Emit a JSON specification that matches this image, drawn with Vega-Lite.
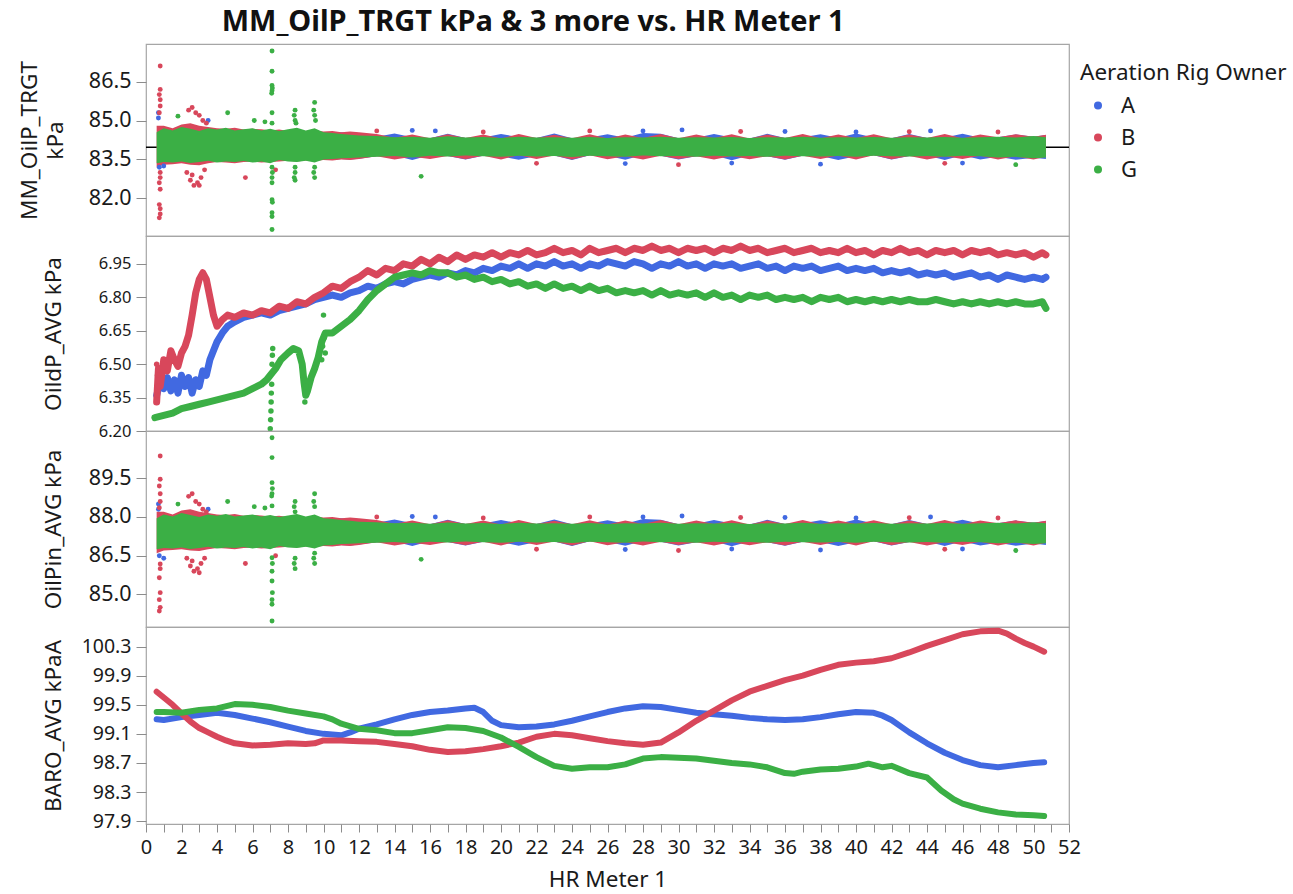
{
"$schema": "https://vega.github.io/schema/vega-lite/v6.json",
"background": "white",
"padding": {"left": 17, "top": 8, "right": 5, "bottom": 5},
"title": {"text": "MM_OilP_TRGT kPa & 3 more vs. HR Meter 1", "fontSize": 29, "fontWeight": "bold", "color": "#111111", "anchor": "middle", "offset": 6, "dx": -128},
"config": {
 "font": "Noto Sans",
 "view": {"stroke": "#a6a6a6", "strokeWidth": 1.2},
 "axis": {"grid": false, "domain": false, "ticks": true, "tickColor": "#8c8c8c", "tickSize": 10, "labelColor": "#1a1a1a", "titleColor": "#1a1a1a", "titleFontWeight": "normal", "titleFontSize": 22.5, "labelFontSize": 21.5, "labelPadding": 5},
 "legend": {"titleFontSize": 22.5, "titleFontWeight": "normal", "titleColor": "#1a1a1a", "titleLimit": 400, "labelFontSize": 22, "labelColor": "#1a1a1a", "symbolType": "circle", "symbolSize": 64, "symbolStrokeWidth": 0, "rowPadding": 10, "titlePadding": 10, "labelOffset": 12, "symbolOffset": 7, "offset": -20, "padding": 18}
},
"datasets": {
 "ref": [{"r": 83.97}],
 "band": [
  {"x":0.7,"s":"A","tl":83.30,"th":84.70,"pl":86.70,"ph":88.10},
  {"x":1,"s":"A","tl":83.35,"th":84.65,"pl":86.75,"ph":88.05},
  {"x":1.5,"s":"A","tl":83.40,"th":84.60,"pl":86.80,"ph":88.00},
  {"x":2,"s":"A","tl":83.38,"th":84.62,"pl":86.78,"ph":88.02},
  {"x":2.5,"s":"A","tl":83.42,"th":84.58,"pl":86.82,"ph":87.98},
  {"x":3,"s":"A","tl":83.40,"th":84.65,"pl":86.80,"ph":88.05},
  {"x":3.5,"s":"A","tl":83.38,"th":84.70,"pl":86.78,"ph":88.10},
  {"x":4,"s":"A","tl":83.42,"th":84.60,"pl":86.82,"ph":88.00},
  {"x":4.5,"s":"A","tl":83.40,"th":84.62,"pl":86.80,"ph":88.02},
  {"x":5,"s":"A","tl":83.44,"th":84.58,"pl":86.84,"ph":87.98},
  {"x":5.5,"s":"A","tl":83.42,"th":84.60,"pl":86.82,"ph":88.00},
  {"x":6,"s":"A","tl":83.45,"th":84.56,"pl":86.85,"ph":87.96},
  {"x":6.5,"s":"A","tl":83.43,"th":84.60,"pl":86.83,"ph":88.00},
  {"x":7,"s":"A","tl":83.46,"th":84.58,"pl":86.86,"ph":87.98},
  {"x":7.5,"s":"A","tl":83.44,"th":84.55,"pl":86.84,"ph":87.95},
  {"x":8,"s":"A","tl":83.48,"th":84.57,"pl":86.88,"ph":87.97},
  {"x":8.5,"s":"A","tl":83.45,"th":84.55,"pl":86.85,"ph":87.95},
  {"x":9,"s":"A","tl":83.48,"th":84.58,"pl":86.88,"ph":87.98},
  {"x":9.5,"s":"A","tl":83.46,"th":84.54,"pl":86.86,"ph":87.94},
  {"x":10,"s":"A","tl":83.50,"th":84.56,"pl":86.90,"ph":87.96},
  {"x":10.5,"s":"A","tl":83.48,"th":84.52,"pl":86.88,"ph":87.92},
  {"x":11,"s":"A","tl":83.52,"th":84.55,"pl":86.92,"ph":87.95},
  {"x":11.5,"s":"A","tl":83.50,"th":84.50,"pl":86.90,"ph":87.90},
  {"x":12,"s":"A","tl":83.53,"th":84.52,"pl":86.93,"ph":87.92},
  {"x":13,"s":"A","tl":83.62,"th":84.38,"pl":87.02,"ph":87.78},
  {"x":14,"s":"A","tl":83.65,"th":84.50,"pl":87.05,"ph":87.90},
  {"x":15,"s":"A","tl":83.48,"th":84.36,"pl":86.88,"ph":87.76},
  {"x":16,"s":"A","tl":83.66,"th":84.32,"pl":87.06,"ph":87.72},
  {"x":17,"s":"A","tl":83.63,"th":84.49,"pl":87.03,"ph":87.89},
  {"x":18,"s":"A","tl":83.50,"th":84.33,"pl":86.90,"ph":87.73},
  {"x":19,"s":"A","tl":83.64,"th":84.35,"pl":87.04,"ph":87.75},
  {"x":20,"s":"A","tl":83.62,"th":84.48,"pl":87.02,"ph":87.88},
  {"x":21,"s":"A","tl":83.49,"th":84.36,"pl":86.89,"ph":87.76},
  {"x":22,"s":"A","tl":83.63,"th":84.33,"pl":87.03,"ph":87.73},
  {"x":23,"s":"A","tl":83.65,"th":84.50,"pl":87.05,"ph":87.90},
  {"x":24,"s":"A","tl":83.48,"th":84.32,"pl":86.88,"ph":87.72},
  {"x":25,"s":"A","tl":83.66,"th":84.35,"pl":87.06,"ph":87.75},
  {"x":26,"s":"A","tl":83.64,"th":84.47,"pl":87.04,"ph":87.87},
  {"x":27,"s":"A","tl":83.49,"th":84.34,"pl":86.89,"ph":87.74},
  {"x":28,"s":"A","tl":83.67,"th":84.52,"pl":87.07,"ph":87.92},
  {"x":29,"s":"A","tl":83.64,"th":84.49,"pl":87.04,"ph":87.89},
  {"x":30,"s":"A","tl":83.50,"th":84.32,"pl":86.90,"ph":87.72},
  {"x":31,"s":"A","tl":83.62,"th":84.34,"pl":87.02,"ph":87.74},
  {"x":32,"s":"A","tl":83.66,"th":84.48,"pl":87.06,"ph":87.88},
  {"x":33,"s":"A","tl":83.47,"th":84.35,"pl":86.87,"ph":87.75},
  {"x":34,"s":"A","tl":83.65,"th":84.31,"pl":87.05,"ph":87.71},
  {"x":35,"s":"A","tl":83.62,"th":84.49,"pl":87.02,"ph":87.89},
  {"x":36,"s":"A","tl":83.49,"th":84.33,"pl":86.89,"ph":87.73},
  {"x":37,"s":"A","tl":83.64,"th":84.36,"pl":87.04,"ph":87.76},
  {"x":38,"s":"A","tl":83.63,"th":84.47,"pl":87.03,"ph":87.87},
  {"x":39,"s":"A","tl":83.48,"th":84.34,"pl":86.88,"ph":87.74},
  {"x":40,"s":"A","tl":83.62,"th":84.50,"pl":87.02,"ph":87.90},
  {"x":41,"s":"A","tl":83.66,"th":84.35,"pl":87.06,"ph":87.75},
  {"x":42,"s":"A","tl":83.50,"th":84.32,"pl":86.90,"ph":87.72},
  {"x":43,"s":"A","tl":83.63,"th":84.48,"pl":87.03,"ph":87.88},
  {"x":44,"s":"A","tl":83.65,"th":84.33,"pl":87.05,"ph":87.73},
  {"x":45,"s":"A","tl":83.48,"th":84.35,"pl":86.88,"ph":87.75},
  {"x":46,"s":"A","tl":83.66,"th":84.49,"pl":87.06,"ph":87.89},
  {"x":47,"s":"A","tl":83.50,"th":84.34,"pl":86.90,"ph":87.74},
  {"x":48,"s":"A","tl":83.60,"th":84.36,"pl":87.00,"ph":87.76},
  {"x":49,"s":"A","tl":83.49,"th":84.46,"pl":86.89,"ph":87.86},
  {"x":50,"s":"A","tl":83.57,"th":84.38,"pl":86.97,"ph":87.78},
  {"x":50.7,"s":"A","tl":83.52,"th":84.44,"pl":86.92,"ph":87.84},
  {"x":0.6,"s":"B","tl":83.20,"th":84.80,"pl":86.60,"ph":88.20},
  {"x":1,"s":"B","tl":83.30,"th":84.80,"pl":86.70,"ph":88.20},
  {"x":1.5,"s":"B","tl":83.32,"th":84.70,"pl":86.72,"ph":88.10},
  {"x":2,"s":"B","tl":83.35,"th":84.85,"pl":86.75,"ph":88.25},
  {"x":2.5,"s":"B","tl":83.30,"th":84.90,"pl":86.70,"ph":88.30},
  {"x":3,"s":"B","tl":83.28,"th":84.80,"pl":86.68,"ph":88.20},
  {"x":3.5,"s":"B","tl":83.35,"th":84.75,"pl":86.75,"ph":88.15},
  {"x":4,"s":"B","tl":83.40,"th":84.70,"pl":86.80,"ph":88.10},
  {"x":4.5,"s":"B","tl":83.38,"th":84.68,"pl":86.78,"ph":88.08},
  {"x":5,"s":"B","tl":83.35,"th":84.72,"pl":86.75,"ph":88.12},
  {"x":5.5,"s":"B","tl":83.40,"th":84.65,"pl":86.80,"ph":88.05},
  {"x":6,"s":"B","tl":83.42,"th":84.68,"pl":86.82,"ph":88.08},
  {"x":6.5,"s":"B","tl":83.38,"th":84.66,"pl":86.78,"ph":88.06},
  {"x":7,"s":"B","tl":83.40,"th":84.62,"pl":86.80,"ph":88.02},
  {"x":7.5,"s":"B","tl":83.42,"th":84.65,"pl":86.82,"ph":88.05},
  {"x":8,"s":"B","tl":83.45,"th":84.60,"pl":86.85,"ph":88.00},
  {"x":8.5,"s":"B","tl":83.42,"th":84.62,"pl":86.82,"ph":88.02},
  {"x":9,"s":"B","tl":83.46,"th":84.58,"pl":86.86,"ph":87.98},
  {"x":9.5,"s":"B","tl":83.44,"th":84.62,"pl":86.84,"ph":88.02},
  {"x":10,"s":"B","tl":83.48,"th":84.58,"pl":86.88,"ph":87.98},
  {"x":10.5,"s":"B","tl":83.46,"th":84.60,"pl":86.86,"ph":88.00},
  {"x":11,"s":"B","tl":83.50,"th":84.55,"pl":86.90,"ph":87.95},
  {"x":11.5,"s":"B","tl":83.48,"th":84.58,"pl":86.88,"ph":87.98},
  {"x":12,"s":"B","tl":83.52,"th":84.55,"pl":86.92,"ph":87.95},
  {"x":13,"s":"B","tl":83.62,"th":84.48,"pl":87.02,"ph":87.88},
  {"x":14,"s":"B","tl":83.50,"th":84.34,"pl":86.90,"ph":87.74},
  {"x":15,"s":"B","tl":83.60,"th":84.46,"pl":87.00,"ph":87.86},
  {"x":16,"s":"B","tl":83.52,"th":84.32,"pl":86.92,"ph":87.72},
  {"x":17,"s":"B","tl":83.63,"th":84.47,"pl":87.03,"ph":87.87},
  {"x":18,"s":"B","tl":83.51,"th":84.33,"pl":86.91,"ph":87.73},
  {"x":19,"s":"B","tl":83.64,"th":84.46,"pl":87.04,"ph":87.86},
  {"x":20,"s":"B","tl":83.50,"th":84.31,"pl":86.90,"ph":87.71},
  {"x":21,"s":"B","tl":83.66,"th":84.48,"pl":87.06,"ph":87.88},
  {"x":22,"s":"B","tl":83.52,"th":84.33,"pl":86.92,"ph":87.73},
  {"x":23,"s":"B","tl":83.65,"th":84.45,"pl":87.05,"ph":87.85},
  {"x":24,"s":"B","tl":83.50,"th":84.32,"pl":86.90,"ph":87.72},
  {"x":25,"s":"B","tl":83.66,"th":84.47,"pl":87.06,"ph":87.87},
  {"x":26,"s":"B","tl":83.51,"th":84.31,"pl":86.91,"ph":87.71},
  {"x":27,"s":"B","tl":83.62,"th":84.46,"pl":87.02,"ph":87.86},
  {"x":28,"s":"B","tl":83.50,"th":84.33,"pl":86.90,"ph":87.73},
  {"x":29,"s":"B","tl":83.64,"th":84.48,"pl":87.04,"ph":87.88},
  {"x":30,"s":"B","tl":83.52,"th":84.32,"pl":86.92,"ph":87.72},
  {"x":31,"s":"B","tl":83.62,"th":84.46,"pl":87.02,"ph":87.86},
  {"x":32,"s":"B","tl":83.50,"th":84.33,"pl":86.90,"ph":87.73},
  {"x":33,"s":"B","tl":83.63,"th":84.47,"pl":87.03,"ph":87.87},
  {"x":34,"s":"B","tl":83.51,"th":84.31,"pl":86.91,"ph":87.71},
  {"x":35,"s":"B","tl":83.62,"th":84.46,"pl":87.02,"ph":87.86},
  {"x":36,"s":"B","tl":83.50,"th":84.33,"pl":86.90,"ph":87.73},
  {"x":37,"s":"B","tl":83.64,"th":84.48,"pl":87.04,"ph":87.88},
  {"x":38,"s":"B","tl":83.52,"th":84.32,"pl":86.92,"ph":87.72},
  {"x":39,"s":"B","tl":83.65,"th":84.46,"pl":87.05,"ph":87.86},
  {"x":40,"s":"B","tl":83.50,"th":84.33,"pl":86.90,"ph":87.73},
  {"x":41,"s":"B","tl":83.66,"th":84.47,"pl":87.06,"ph":87.87},
  {"x":42,"s":"B","tl":83.51,"th":84.32,"pl":86.91,"ph":87.72},
  {"x":43,"s":"B","tl":83.63,"th":84.46,"pl":87.03,"ph":87.86},
  {"x":44,"s":"B","tl":83.50,"th":84.33,"pl":86.90,"ph":87.73},
  {"x":45,"s":"B","tl":83.62,"th":84.48,"pl":87.02,"ph":87.88},
  {"x":46,"s":"B","tl":83.52,"th":84.32,"pl":86.92,"ph":87.72},
  {"x":47,"s":"B","tl":83.64,"th":84.46,"pl":87.04,"ph":87.86},
  {"x":48,"s":"B","tl":83.50,"th":84.36,"pl":86.90,"ph":87.76},
  {"x":49,"s":"B","tl":83.62,"th":84.47,"pl":87.02,"ph":87.87},
  {"x":50,"s":"B","tl":83.50,"th":84.38,"pl":86.90,"ph":87.78},
  {"x":50.7,"s":"B","tl":83.60,"th":84.45,"pl":87.00,"ph":87.85},
  {"x":0.6,"s":"G","tl":83.35,"th":84.55,"pl":86.75,"ph":87.95},
  {"x":1,"s":"G","tl":83.40,"th":84.70,"pl":86.80,"ph":88.10},
  {"x":1.5,"s":"G","tl":83.38,"th":84.62,"pl":86.78,"ph":88.02},
  {"x":2,"s":"G","tl":83.42,"th":84.75,"pl":86.82,"ph":88.15},
  {"x":2.5,"s":"G","tl":83.36,"th":84.68,"pl":86.76,"ph":88.08},
  {"x":3,"s":"G","tl":83.40,"th":84.60,"pl":86.80,"ph":88.00},
  {"x":3.5,"s":"G","tl":83.45,"th":84.70,"pl":86.85,"ph":88.10},
  {"x":4,"s":"G","tl":83.38,"th":84.65,"pl":86.78,"ph":88.05},
  {"x":4.5,"s":"G","tl":83.42,"th":84.72,"pl":86.82,"ph":88.12},
  {"x":5,"s":"G","tl":83.40,"th":84.62,"pl":86.80,"ph":88.02},
  {"x":5.5,"s":"G","tl":83.44,"th":84.66,"pl":86.84,"ph":88.06},
  {"x":6,"s":"G","tl":83.38,"th":84.70,"pl":86.78,"ph":88.10},
  {"x":6.5,"s":"G","tl":83.42,"th":84.62,"pl":86.82,"ph":88.02},
  {"x":7,"s":"G","tl":83.35,"th":84.68,"pl":86.75,"ph":88.08},
  {"x":7.5,"s":"G","tl":83.48,"th":84.60,"pl":86.88,"ph":88.00},
  {"x":8,"s":"G","tl":83.42,"th":84.66,"pl":86.82,"ph":88.06},
  {"x":8.5,"s":"G","tl":83.40,"th":84.72,"pl":86.80,"ph":88.12},
  {"x":9,"s":"G","tl":83.45,"th":84.62,"pl":86.85,"ph":88.02},
  {"x":9.5,"s":"G","tl":83.38,"th":84.70,"pl":86.78,"ph":88.10},
  {"x":10,"s":"G","tl":83.50,"th":84.55,"pl":86.90,"ph":87.95},
  {"x":10.5,"s":"G","tl":83.52,"th":84.52,"pl":86.92,"ph":87.92},
  {"x":11,"s":"G","tl":83.55,"th":84.48,"pl":86.95,"ph":87.88},
  {"x":11.5,"s":"G","tl":83.56,"th":84.45,"pl":86.96,"ph":87.85},
  {"x":12,"s":"G","tl":83.58,"th":84.42,"pl":86.98,"ph":87.82},
  {"x":13,"s":"G","tl":83.60,"th":84.40,"pl":87.00,"ph":87.80},
  {"x":14,"s":"G","tl":83.63,"th":84.36,"pl":87.03,"ph":87.76},
  {"x":15,"s":"G","tl":83.58,"th":84.38,"pl":86.98,"ph":87.78},
  {"x":16,"s":"G","tl":83.64,"th":84.34,"pl":87.04,"ph":87.74},
  {"x":17,"s":"G","tl":83.61,"th":84.39,"pl":87.01,"ph":87.79},
  {"x":18,"s":"G","tl":83.65,"th":84.35,"pl":87.05,"ph":87.75},
  {"x":19,"s":"G","tl":83.62,"th":84.37,"pl":87.02,"ph":87.77},
  {"x":20,"s":"G","tl":83.60,"th":84.33,"pl":87.00,"ph":87.73},
  {"x":21,"s":"G","tl":83.64,"th":84.38,"pl":87.04,"ph":87.78},
  {"x":22,"s":"G","tl":83.61,"th":84.35,"pl":87.01,"ph":87.75},
  {"x":23,"s":"G","tl":83.63,"th":84.36,"pl":87.03,"ph":87.76},
  {"x":24,"s":"G","tl":83.59,"th":84.34,"pl":86.99,"ph":87.74},
  {"x":25,"s":"G","tl":83.64,"th":84.37,"pl":87.04,"ph":87.77},
  {"x":26,"s":"G","tl":83.62,"th":84.33,"pl":87.02,"ph":87.73},
  {"x":27,"s":"G","tl":83.60,"th":84.36,"pl":87.00,"ph":87.76},
  {"x":28,"s":"G","tl":83.65,"th":84.35,"pl":87.05,"ph":87.75},
  {"x":29,"s":"G","tl":83.62,"th":84.38,"pl":87.02,"ph":87.78},
  {"x":30,"s":"G","tl":83.63,"th":84.34,"pl":87.03,"ph":87.74},
  {"x":31,"s":"G","tl":83.60,"th":84.36,"pl":87.00,"ph":87.76},
  {"x":32,"s":"G","tl":83.64,"th":84.35,"pl":87.04,"ph":87.75},
  {"x":33,"s":"G","tl":83.61,"th":84.37,"pl":87.01,"ph":87.77},
  {"x":34,"s":"G","tl":83.63,"th":84.33,"pl":87.03,"ph":87.73},
  {"x":35,"s":"G","tl":83.60,"th":84.36,"pl":87.00,"ph":87.76},
  {"x":36,"s":"G","tl":83.64,"th":84.35,"pl":87.04,"ph":87.75},
  {"x":37,"s":"G","tl":83.62,"th":84.38,"pl":87.02,"ph":87.78},
  {"x":38,"s":"G","tl":83.61,"th":84.34,"pl":87.01,"ph":87.74},
  {"x":39,"s":"G","tl":83.63,"th":84.36,"pl":87.03,"ph":87.76},
  {"x":40,"s":"G","tl":83.60,"th":84.35,"pl":87.00,"ph":87.75},
  {"x":41,"s":"G","tl":83.64,"th":84.37,"pl":87.04,"ph":87.77},
  {"x":42,"s":"G","tl":83.62,"th":84.34,"pl":87.02,"ph":87.74},
  {"x":43,"s":"G","tl":83.61,"th":84.36,"pl":87.01,"ph":87.76},
  {"x":44,"s":"G","tl":83.63,"th":84.35,"pl":87.03,"ph":87.75},
  {"x":45,"s":"G","tl":83.60,"th":84.37,"pl":87.00,"ph":87.77},
  {"x":46,"s":"G","tl":83.64,"th":84.34,"pl":87.04,"ph":87.74},
  {"x":47,"s":"G","tl":83.62,"th":84.36,"pl":87.02,"ph":87.76},
  {"x":48,"s":"G","tl":83.58,"th":84.38,"pl":86.98,"ph":87.78},
  {"x":49,"s":"G","tl":83.60,"th":84.35,"pl":87.00,"ph":87.75},
  {"x":50,"s":"G","tl":83.55,"th":84.40,"pl":86.95,"ph":87.80},
  {"x":50.7,"s":"G","tl":83.58,"th":84.36,"pl":86.98,"ph":87.76}
 ],
 "pts": [
  {"x":0.7,"s":"A","f":"t","v":85.3},{"x":0.7,"s":"A","f":"t","v":85.1},{"x":0.75,"s":"A","f":"t","v":83.2},{"x":1.0,"s":"A","f":"t","v":83.25},{"x":3.5,"s":"A","f":"t","v":85.0},{"x":15,"s":"A","f":"t","v":84.62},{"x":16.3,"s":"A","f":"t","v":84.6},{"x":28,"s":"A","f":"t","v":84.6},{"x":30.2,"s":"A","f":"t","v":84.64},{"x":36,"s":"A","f":"t","v":84.58},{"x":40,"s":"A","f":"t","v":84.56},{"x":44.2,"s":"A","f":"t","v":84.6},{"x":27,"s":"A","f":"t","v":83.34},{"x":33,"s":"A","f":"t","v":83.36},{"x":38,"s":"A","f":"t","v":83.32},{"x":46,"s":"A","f":"t","v":83.36},
  {"x":0.8,"s":"B","f":"t","v":87.1},{"x":0.8,"s":"B","f":"t","v":86.2},{"x":0.75,"s":"B","f":"t","v":86.0},{"x":0.8,"s":"B","f":"t","v":85.8},{"x":0.8,"s":"B","f":"t","v":85.56},{"x":0.75,"s":"B","f":"t","v":85.3},{"x":0.8,"s":"B","f":"t","v":83.0},{"x":0.8,"s":"B","f":"t","v":82.8},{"x":0.75,"s":"B","f":"t","v":82.6},{"x":0.8,"s":"B","f":"t","v":82.35},{"x":0.75,"s":"B","f":"t","v":81.76},{"x":0.8,"s":"B","f":"t","v":81.6},{"x":0.8,"s":"B","f":"t","v":81.4},{"x":0.75,"s":"B","f":"t","v":81.25},
  {"x":2.4,"s":"B","f":"t","v":85.4},{"x":2.6,"s":"B","f":"t","v":85.5},{"x":2.8,"s":"B","f":"t","v":85.3},{"x":3.0,"s":"B","f":"t","v":85.2},{"x":3.2,"s":"B","f":"t","v":85.0},{"x":3.4,"s":"B","f":"t","v":84.9},{"x":2.3,"s":"B","f":"t","v":83.0},{"x":2.5,"s":"B","f":"t","v":82.7},{"x":2.7,"s":"B","f":"t","v":82.5},{"x":2.9,"s":"B","f":"t","v":82.6},{"x":3.1,"s":"B","f":"t","v":82.8},{"x":3.3,"s":"B","f":"t","v":83.1},{"x":2.6,"s":"B","f":"t","v":82.9},{"x":3.0,"s":"B","f":"t","v":82.5},{"x":5.6,"s":"B","f":"t","v":82.8},{"x":7.3,"s":"B","f":"t","v":83.1},
  {"x":13,"s":"B","f":"t","v":84.6},{"x":19,"s":"B","f":"t","v":84.56},{"x":25,"s":"B","f":"t","v":84.6},{"x":33.5,"s":"B","f":"t","v":84.58},{"x":43,"s":"B","f":"t","v":84.57},{"x":48,"s":"B","f":"t","v":84.56},{"x":22,"s":"B","f":"t","v":83.35},{"x":30,"s":"B","f":"t","v":83.3},{"x":45,"s":"B","f":"t","v":83.35},
  {"x":1.8,"s":"G","f":"t","v":85.17},{"x":4.6,"s":"G","f":"t","v":85.3},{"x":6.1,"s":"G","f":"t","v":85.0},{"x":6.7,"s":"G","f":"t","v":84.95},
  {"x":7.1,"s":"G","f":"t","v":87.68},{"x":7.1,"s":"G","f":"t","v":86.9},{"x":7.1,"s":"G","f":"t","v":86.35},{"x":7.12,"s":"G","f":"t","v":86.25},{"x":7.1,"s":"G","f":"t","v":86.15},{"x":7.08,"s":"G","f":"t","v":86.05},{"x":7.1,"s":"G","f":"t","v":85.3},{"x":7.1,"s":"G","f":"t","v":84.9},{"x":7.1,"s":"G","f":"t","v":83.2},{"x":7.12,"s":"G","f":"t","v":83.0},{"x":7.1,"s":"G","f":"t","v":82.8},{"x":7.1,"s":"G","f":"t","v":82.6},{"x":7.1,"s":"G","f":"t","v":81.95},{"x":7.12,"s":"G","f":"t","v":81.85},{"x":7.1,"s":"G","f":"t","v":81.45},{"x":7.1,"s":"G","f":"t","v":81.3},{"x":7.1,"s":"G","f":"t","v":80.8},
  {"x":8.4,"s":"G","f":"t","v":85.4},{"x":8.35,"s":"G","f":"t","v":85.2},{"x":8.4,"s":"G","f":"t","v":85.0},{"x":8.45,"s":"G","f":"t","v":84.9},{"x":8.4,"s":"G","f":"t","v":83.2},{"x":8.4,"s":"G","f":"t","v":83.0},{"x":8.35,"s":"G","f":"t","v":82.8},{"x":8.4,"s":"G","f":"t","v":82.7},
  {"x":9.5,"s":"G","f":"t","v":85.7},{"x":9.45,"s":"G","f":"t","v":85.4},{"x":9.5,"s":"G","f":"t","v":85.2},{"x":9.55,"s":"G","f":"t","v":85.0},{"x":9.5,"s":"G","f":"t","v":83.2},{"x":9.45,"s":"G","f":"t","v":83.0},{"x":9.5,"s":"G","f":"t","v":82.8},{"x":15.5,"s":"G","f":"t","v":82.85},{"x":49,"s":"G","f":"t","v":83.3},
  {"x":0.7,"s":"A","f":"p","v":88.5},{"x":0.7,"s":"A","f":"p","v":88.3},{"x":0.75,"s":"A","f":"p","v":86.5},{"x":1.0,"s":"A","f":"p","v":86.4},{"x":3.5,"s":"A","f":"p","v":88.3},{"x":15,"s":"A","f":"p","v":88.02},{"x":16.3,"s":"A","f":"p","v":88.0},{"x":28,"s":"A","f":"p","v":88.0},{"x":30.2,"s":"A","f":"p","v":88.04},{"x":36,"s":"A","f":"p","v":87.98},{"x":40,"s":"A","f":"p","v":87.96},{"x":44.2,"s":"A","f":"p","v":88.0},{"x":27,"s":"A","f":"p","v":86.74},{"x":33,"s":"A","f":"p","v":86.76},{"x":38,"s":"A","f":"p","v":86.72},{"x":46,"s":"A","f":"p","v":86.76},
  {"x":0.8,"s":"B","f":"p","v":90.36},{"x":0.8,"s":"B","f":"p","v":89.46},{"x":0.75,"s":"B","f":"p","v":89.2},{"x":0.8,"s":"B","f":"p","v":88.9},{"x":0.8,"s":"B","f":"p","v":88.6},{"x":0.75,"s":"B","f":"p","v":88.36},{"x":0.8,"s":"B","f":"p","v":86.18},{"x":0.8,"s":"B","f":"p","v":86.0},{"x":0.75,"s":"B","f":"p","v":85.65},{"x":0.8,"s":"B","f":"p","v":85.07},{"x":0.75,"s":"B","f":"p","v":84.8},{"x":0.8,"s":"B","f":"p","v":84.5},{"x":0.75,"s":"B","f":"p","v":84.36},
  {"x":2.4,"s":"B","f":"p","v":88.8},{"x":2.6,"s":"B","f":"p","v":88.9},{"x":2.8,"s":"B","f":"p","v":88.6},{"x":3.0,"s":"B","f":"p","v":88.5},{"x":3.2,"s":"B","f":"p","v":88.3},{"x":3.4,"s":"B","f":"p","v":88.2},{"x":2.3,"s":"B","f":"p","v":86.4},{"x":2.5,"s":"B","f":"p","v":86.1},{"x":2.7,"s":"B","f":"p","v":85.9},{"x":2.9,"s":"B","f":"p","v":86.0},{"x":3.1,"s":"B","f":"p","v":86.2},{"x":3.3,"s":"B","f":"p","v":86.4},{"x":2.6,"s":"B","f":"p","v":86.3},{"x":3.0,"s":"B","f":"p","v":85.84},{"x":5.6,"s":"B","f":"p","v":86.2},{"x":7.3,"s":"B","f":"p","v":86.5},
  {"x":13,"s":"B","f":"p","v":88.0},{"x":19,"s":"B","f":"p","v":87.96},{"x":25,"s":"B","f":"p","v":88.0},{"x":33.5,"s":"B","f":"p","v":87.98},{"x":43,"s":"B","f":"p","v":87.97},{"x":48,"s":"B","f":"p","v":87.96},{"x":22,"s":"B","f":"p","v":86.75},{"x":30,"s":"B","f":"p","v":86.7},{"x":45,"s":"B","f":"p","v":86.75},
  {"x":1.8,"s":"G","f":"p","v":88.5},{"x":4.6,"s":"G","f":"p","v":88.6},{"x":6.1,"s":"G","f":"p","v":88.4},{"x":6.7,"s":"G","f":"p","v":88.35},
  {"x":7.1,"s":"G","f":"p","v":91.07},{"x":7.1,"s":"G","f":"p","v":90.3},{"x":7.1,"s":"G","f":"p","v":89.33},{"x":7.12,"s":"G","f":"p","v":89.1},{"x":7.1,"s":"G","f":"p","v":88.9},{"x":7.08,"s":"G","f":"p","v":88.81},{"x":7.1,"s":"G","f":"p","v":88.43},{"x":7.1,"s":"G","f":"p","v":86.42},{"x":7.12,"s":"G","f":"p","v":86.2},{"x":7.1,"s":"G","f":"p","v":85.9},{"x":7.1,"s":"G","f":"p","v":85.52},{"x":7.12,"s":"G","f":"p","v":85.07},{"x":7.1,"s":"G","f":"p","v":84.8},{"x":7.1,"s":"G","f":"p","v":84.62},{"x":7.1,"s":"G","f":"p","v":83.97},
  {"x":8.4,"s":"G","f":"p","v":88.6},{"x":8.35,"s":"G","f":"p","v":88.4},{"x":8.4,"s":"G","f":"p","v":88.2},{"x":8.4,"s":"G","f":"p","v":86.4},{"x":8.35,"s":"G","f":"p","v":86.2},{"x":8.4,"s":"G","f":"p","v":86.0},
  {"x":9.5,"s":"G","f":"p","v":88.9},{"x":9.45,"s":"G","f":"p","v":88.6},{"x":9.5,"s":"G","f":"p","v":88.4},{"x":9.5,"s":"G","f":"p","v":86.6},{"x":9.45,"s":"G","f":"p","v":86.4},{"x":9.5,"s":"G","f":"p","v":86.2},{"x":15.5,"s":"G","f":"p","v":86.36},{"x":49,"s":"G","f":"p","v":86.7},
  {"x":0.6,"s":"B","f":"d","v":6.50},{"x":0.65,"s":"B","f":"d","v":6.45},{"x":0.7,"s":"B","f":"d","v":6.40},{"x":0.62,"s":"B","f":"d","v":6.36},
  {"x":7.0,"s":"G","f":"d","v":6.21},{"x":7.02,"s":"G","f":"d","v":6.25},{"x":7.04,"s":"G","f":"d","v":6.29},{"x":7.05,"s":"G","f":"d","v":6.33},{"x":7.06,"s":"G","f":"d","v":6.37},{"x":7.08,"s":"G","f":"d","v":6.41},{"x":7.1,"s":"G","f":"d","v":6.50},{"x":7.12,"s":"G","f":"d","v":6.54},{"x":7.14,"s":"G","f":"d","v":6.57},{"x":9.9,"s":"G","f":"d","v":6.52},{"x":9.95,"s":"G","f":"d","v":6.58},{"x":10.0,"s":"G","f":"d","v":6.72},{"x":10.05,"s":"G","f":"d","v":6.62},{"x":10.1,"s":"G","f":"d","v":6.55},{"x":8.95,"s":"G","f":"d","v":6.33},{"x":9.0,"s":"G","f":"d","v":6.40}
 ],
 "dp": [
  {"x":0.6,"s":"A","v":6.36},{"x":0.8,"s":"A","v":6.42},{"x":1.0,"s":"A","v":6.39},{"x":1.2,"s":"A","v":6.44},{"x":1.4,"s":"A","v":6.38},{"x":1.6,"s":"A","v":6.43},{"x":1.8,"s":"A","v":6.37},{"x":2.0,"s":"A","v":6.45},{"x":2.2,"s":"A","v":6.40},{"x":2.4,"s":"A","v":6.44},{"x":2.6,"s":"A","v":6.37},{"x":2.8,"s":"A","v":6.43},{"x":3.0,"s":"A","v":6.40},{"x":3.2,"s":"A","v":6.47},{"x":3.4,"s":"A","v":6.45},{"x":3.6,"s":"A","v":6.52},{"x":3.8,"s":"A","v":6.56},{"x":4.0,"s":"A","v":6.60},{"x":4.3,"s":"A","v":6.64},{"x":4.6,"s":"A","v":6.67},{"x":5.0,"s":"A","v":6.69},{"x":5.5,"s":"A","v":6.71},{"x":6.0,"s":"A","v":6.72},{"x":6.5,"s":"A","v":6.73},{"x":7.0,"s":"A","v":6.72},{"x":7.5,"s":"A","v":6.74},{"x":8.0,"s":"A","v":6.75},{"x":8.5,"s":"A","v":6.76},{"x":9.0,"s":"A","v":6.77},{"x":9.5,"s":"A","v":6.79},{"x":10.0,"s":"A","v":6.80},{"x":10.5,"s":"A","v":6.81},{"x":11.0,"s":"A","v":6.80},{"x":11.5,"s":"A","v":6.82},{"x":12.0,"s":"A","v":6.83},{"x":12.5,"s":"A","v":6.85},{"x":13.0,"s":"A","v":6.84},{"x":13.5,"s":"A","v":6.86},{"x":14.0,"s":"A","v":6.87},{"x":14.5,"s":"A","v":6.86},{"x":15.0,"s":"A","v":6.88},{"x":15.5,"s":"A","v":6.89},{"x":16.0,"s":"A","v":6.90},{"x":16.5,"s":"A","v":6.89},{"x":17.0,"s":"A","v":6.91},{"x":17.5,"s":"A","v":6.90},{"x":18.0,"s":"A","v":6.92},{"x":18.5,"s":"A","v":6.91},{"x":19.0,"s":"A","v":6.93},{"x":19.5,"s":"A","v":6.92},{"x":20.0,"s":"A","v":6.94},{"x":20.5,"s":"A","v":6.93},{"x":21,"s":"A","v":6.95},{"x":21.5,"s":"A","v":6.93},{"x":22,"s":"A","v":6.95},{"x":22.5,"s":"A","v":6.94},{"x":23,"s":"A","v":6.96},{"x":23.5,"s":"A","v":6.94},{"x":24,"s":"A","v":6.95},{"x":24.5,"s":"A","v":6.93},{"x":25,"s":"A","v":6.95},{"x":25.5,"s":"A","v":6.94},{"x":26,"s":"A","v":6.96},{"x":26.5,"s":"A","v":6.95},{"x":27,"s":"A","v":6.94},{"x":27.5,"s":"A","v":6.96},{"x":28,"s":"A","v":6.95},{"x":28.5,"s":"A","v":6.93},{"x":29,"s":"A","v":6.95},{"x":29.5,"s":"A","v":6.94},{"x":30,"s":"A","v":6.96},{"x":30.5,"s":"A","v":6.94},{"x":31,"s":"A","v":6.95},{"x":31.5,"s":"A","v":6.93},{"x":32,"s":"A","v":6.95},{"x":32.5,"s":"A","v":6.94},{"x":33,"s":"A","v":6.95},{"x":33.5,"s":"A","v":6.93},{"x":34,"s":"A","v":6.94},{"x":34.5,"s":"A","v":6.95},{"x":35,"s":"A","v":6.93},{"x":35.5,"s":"A","v":6.94},{"x":36,"s":"A","v":6.92},{"x":36.5,"s":"A","v":6.94},{"x":37,"s":"A","v":6.93},{"x":37.5,"s":"A","v":6.94},{"x":38,"s":"A","v":6.92},{"x":38.5,"s":"A","v":6.93},{"x":39,"s":"A","v":6.94},{"x":39.5,"s":"A","v":6.92},{"x":40,"s":"A","v":6.93},{"x":40.5,"s":"A","v":6.92},{"x":41,"s":"A","v":6.93},{"x":41.5,"s":"A","v":6.91},{"x":42,"s":"A","v":6.92},{"x":42.5,"s":"A","v":6.91},{"x":43,"s":"A","v":6.92},{"x":43.5,"s":"A","v":6.90},{"x":44,"s":"A","v":6.91},{"x":44.5,"s":"A","v":6.90},{"x":45,"s":"A","v":6.91},{"x":45.5,"s":"A","v":6.89},{"x":46,"s":"A","v":6.90},{"x":46.5,"s":"A","v":6.91},{"x":47,"s":"A","v":6.89},{"x":47.5,"s":"A","v":6.90},{"x":48,"s":"A","v":6.88},{"x":48.5,"s":"A","v":6.90},{"x":49,"s":"A","v":6.89},{"x":49.5,"s":"A","v":6.88},{"x":50,"s":"A","v":6.89},{"x":50.5,"s":"A","v":6.88},{"x":50.7,"s":"A","v":6.89},
  {"x":0.6,"s":"B","v":6.33},{"x":0.7,"s":"B","v":6.48},{"x":0.8,"s":"B","v":6.40},{"x":1.0,"s":"B","v":6.52},{"x":1.2,"s":"B","v":6.47},{"x":1.4,"s":"B","v":6.56},{"x":1.6,"s":"B","v":6.52},{"x":1.8,"s":"B","v":6.49},{"x":2.0,"s":"B","v":6.55},{"x":2.2,"s":"B","v":6.58},{"x":2.4,"s":"B","v":6.63},{"x":2.6,"s":"B","v":6.72},{"x":2.8,"s":"B","v":6.82},{"x":3.0,"s":"B","v":6.88},{"x":3.2,"s":"B","v":6.91},{"x":3.4,"s":"B","v":6.88},{"x":3.6,"s":"B","v":6.80},{"x":3.8,"s":"B","v":6.72},{"x":4.0,"s":"B","v":6.67},{"x":4.3,"s":"B","v":6.70},{"x":4.6,"s":"B","v":6.72},{"x":5.0,"s":"B","v":6.71},{"x":5.5,"s":"B","v":6.73},{"x":6.0,"s":"B","v":6.72},{"x":6.5,"s":"B","v":6.74},{"x":7.0,"s":"B","v":6.73},{"x":7.5,"s":"B","v":6.76},{"x":8.0,"s":"B","v":6.75},{"x":8.5,"s":"B","v":6.78},{"x":9.0,"s":"B","v":6.77},{"x":9.5,"s":"B","v":6.80},{"x":10.0,"s":"B","v":6.82},{"x":10.5,"s":"B","v":6.85},{"x":11.0,"s":"B","v":6.84},{"x":11.5,"s":"B","v":6.87},{"x":12.0,"s":"B","v":6.89},{"x":12.5,"s":"B","v":6.92},{"x":13.0,"s":"B","v":6.90},{"x":13.5,"s":"B","v":6.93},{"x":14.0,"s":"B","v":6.92},{"x":14.5,"s":"B","v":6.95},{"x":15.0,"s":"B","v":6.94},{"x":15.5,"s":"B","v":6.97},{"x":16.0,"s":"B","v":6.95},{"x":16.5,"s":"B","v":6.98},{"x":17,"s":"B","v":6.96},{"x":17.5,"s":"B","v":6.99},{"x":18,"s":"B","v":6.97},{"x":18.5,"s":"B","v":6.99},{"x":19,"s":"B","v":6.98},{"x":19.5,"s":"B","v":7.00},{"x":20,"s":"B","v":6.98},{"x":20.5,"s":"B","v":7.00},{"x":21,"s":"B","v":6.99},{"x":21.5,"s":"B","v":7.01},{"x":22,"s":"B","v":6.99},{"x":22.5,"s":"B","v":7.00},{"x":23,"s":"B","v":7.02},{"x":23.5,"s":"B","v":7.00},{"x":24,"s":"B","v":7.01},{"x":24.5,"s":"B","v":6.99},{"x":25,"s":"B","v":7.02},{"x":25.5,"s":"B","v":7.00},{"x":26,"s":"B","v":7.01},{"x":26.5,"s":"B","v":7.02},{"x":27,"s":"B","v":7.00},{"x":27.5,"s":"B","v":7.02},{"x":28,"s":"B","v":7.01},{"x":28.5,"s":"B","v":7.03},{"x":29,"s":"B","v":7.01},{"x":29.5,"s":"B","v":7.02},{"x":30,"s":"B","v":7.00},{"x":30.5,"s":"B","v":7.02},{"x":31,"s":"B","v":7.01},{"x":31.5,"s":"B","v":7.02},{"x":32,"s":"B","v":7.00},{"x":32.5,"s":"B","v":7.02},{"x":33,"s":"B","v":7.01},{"x":33.5,"s":"B","v":7.03},{"x":34,"s":"B","v":7.01},{"x":34.5,"s":"B","v":7.02},{"x":35,"s":"B","v":7.00},{"x":35.5,"s":"B","v":7.01},{"x":36,"s":"B","v":7.02},{"x":36.5,"s":"B","v":7.00},{"x":37,"s":"B","v":7.01},{"x":37.5,"s":"B","v":7.02},{"x":38,"s":"B","v":7.00},{"x":38.5,"s":"B","v":7.01},{"x":39,"s":"B","v":7.00},{"x":39.5,"s":"B","v":7.02},{"x":40,"s":"B","v":7.00},{"x":40.5,"s":"B","v":7.01},{"x":41,"s":"B","v":6.99},{"x":41.5,"s":"B","v":7.01},{"x":42,"s":"B","v":7.00},{"x":42.5,"s":"B","v":7.02},{"x":43,"s":"B","v":7.00},{"x":43.5,"s":"B","v":7.01},{"x":44,"s":"B","v":6.99},{"x":44.5,"s":"B","v":7.01},{"x":45,"s":"B","v":7.00},{"x":45.5,"s":"B","v":7.01},{"x":46,"s":"B","v":6.99},{"x":46.5,"s":"B","v":7.01},{"x":47,"s":"B","v":7.00},{"x":47.5,"s":"B","v":7.01},{"x":48,"s":"B","v":6.99},{"x":48.5,"s":"B","v":7.00},{"x":49,"s":"B","v":6.99},{"x":49.5,"s":"B","v":7.00},{"x":50,"s":"B","v":6.98},{"x":50.5,"s":"B","v":7.00},{"x":50.7,"s":"B","v":6.99},
  {"x":0.5,"s":"G","v":6.26},{"x":1.0,"s":"G","v":6.27},{"x":1.5,"s":"G","v":6.28},{"x":2.0,"s":"G","v":6.30},{"x":2.5,"s":"G","v":6.31},{"x":3.0,"s":"G","v":6.32},{"x":3.5,"s":"G","v":6.33},{"x":4.0,"s":"G","v":6.34},{"x":4.5,"s":"G","v":6.35},{"x":5.0,"s":"G","v":6.36},{"x":5.5,"s":"G","v":6.37},{"x":6.0,"s":"G","v":6.39},{"x":6.5,"s":"G","v":6.41},{"x":6.8,"s":"G","v":6.43},{"x":7.0,"s":"G","v":6.45},{"x":7.3,"s":"G","v":6.48},{"x":7.6,"s":"G","v":6.52},{"x":8.0,"s":"G","v":6.55},{"x":8.3,"s":"G","v":6.57},{"x":8.6,"s":"G","v":6.56},{"x":8.8,"s":"G","v":6.50},{"x":8.9,"s":"G","v":6.42},{"x":9.0,"s":"G","v":6.36},{"x":9.1,"s":"G","v":6.38},{"x":9.3,"s":"G","v":6.44},{"x":9.5,"s":"G","v":6.48},{"x":9.7,"s":"G","v":6.53},{"x":9.9,"s":"G","v":6.60},{"x":10.1,"s":"G","v":6.64},{"x":10.5,"s":"G","v":6.64},{"x":11.0,"s":"G","v":6.67},{"x":11.5,"s":"G","v":6.70},{"x":12.0,"s":"G","v":6.74},{"x":12.5,"s":"G","v":6.79},{"x":13.0,"s":"G","v":6.83},{"x":13.5,"s":"G","v":6.86},{"x":14.0,"s":"G","v":6.89},{"x":14.5,"s":"G","v":6.90},{"x":15.0,"s":"G","v":6.91},{"x":15.5,"s":"G","v":6.90},{"x":16.0,"s":"G","v":6.92},{"x":16.5,"s":"G","v":6.91},{"x":17.0,"s":"G","v":6.91},{"x":17.5,"s":"G","v":6.89},{"x":18.0,"s":"G","v":6.90},{"x":18.5,"s":"G","v":6.88},{"x":19,"s":"G","v":6.89},{"x":19.5,"s":"G","v":6.87},{"x":20,"s":"G","v":6.88},{"x":20.5,"s":"G","v":6.86},{"x":21,"s":"G","v":6.87},{"x":21.5,"s":"G","v":6.85},{"x":22,"s":"G","v":6.86},{"x":22.5,"s":"G","v":6.84},{"x":23,"s":"G","v":6.86},{"x":23.5,"s":"G","v":6.84},{"x":24,"s":"G","v":6.85},{"x":24.5,"s":"G","v":6.83},{"x":25,"s":"G","v":6.85},{"x":25.5,"s":"G","v":6.83},{"x":26,"s":"G","v":6.84},{"x":26.5,"s":"G","v":6.82},{"x":27,"s":"G","v":6.83},{"x":27.5,"s":"G","v":6.82},{"x":28,"s":"G","v":6.83},{"x":28.5,"s":"G","v":6.81},{"x":29,"s":"G","v":6.83},{"x":29.5,"s":"G","v":6.81},{"x":30,"s":"G","v":6.82},{"x":30.5,"s":"G","v":6.81},{"x":31,"s":"G","v":6.82},{"x":31.5,"s":"G","v":6.80},{"x":32,"s":"G","v":6.82},{"x":32.5,"s":"G","v":6.80},{"x":33,"s":"G","v":6.81},{"x":33.5,"s":"G","v":6.79},{"x":34,"s":"G","v":6.81},{"x":34.5,"s":"G","v":6.80},{"x":35,"s":"G","v":6.81},{"x":35.5,"s":"G","v":6.79},{"x":36,"s":"G","v":6.80},{"x":36.5,"s":"G","v":6.79},{"x":37,"s":"G","v":6.80},{"x":37.5,"s":"G","v":6.78},{"x":38,"s":"G","v":6.80},{"x":38.5,"s":"G","v":6.79},{"x":39,"s":"G","v":6.80},{"x":39.5,"s":"G","v":6.78},{"x":40,"s":"G","v":6.79},{"x":40.5,"s":"G","v":6.78},{"x":41,"s":"G","v":6.79},{"x":41.5,"s":"G","v":6.78},{"x":42,"s":"G","v":6.79},{"x":42.5,"s":"G","v":6.78},{"x":43,"s":"G","v":6.79},{"x":43.5,"s":"G","v":6.78},{"x":44,"s":"G","v":6.78},{"x":44.5,"s":"G","v":6.79},{"x":45,"s":"G","v":6.78},{"x":45.5,"s":"G","v":6.77},{"x":46,"s":"G","v":6.78},{"x":46.5,"s":"G","v":6.77},{"x":47,"s":"G","v":6.78},{"x":47.5,"s":"G","v":6.77},{"x":48,"s":"G","v":6.78},{"x":48.5,"s":"G","v":6.77},{"x":49,"s":"G","v":6.78},{"x":49.5,"s":"G","v":6.77},{"x":50,"s":"G","v":6.77},{"x":50.5,"s":"G","v":6.78},{"x":50.7,"s":"G","v":6.75}
 ],
 "baro": [
  {"x":0.6,"s":"A","v":99.30},{"x":1,"s":"A","v":99.29},{"x":2,"s":"A","v":99.33},{"x":3,"s":"A","v":99.36},{"x":4,"s":"A","v":99.39},{"x":5,"s":"A","v":99.36},{"x":6,"s":"A","v":99.31},{"x":7,"s":"A","v":99.26},{"x":8,"s":"A","v":99.20},{"x":9,"s":"A","v":99.14},{"x":10,"s":"A","v":99.10},{"x":11,"s":"A","v":99.08},{"x":11.5,"s":"A","v":99.12},{"x":12,"s":"A","v":99.17},{"x":13,"s":"A","v":99.23},{"x":14,"s":"A","v":99.30},{"x":15,"s":"A","v":99.36},{"x":16,"s":"A","v":99.40},{"x":17,"s":"A","v":99.42},{"x":18,"s":"A","v":99.45},{"x":18.5,"s":"A","v":99.46},{"x":19,"s":"A","v":99.40},{"x":19.5,"s":"A","v":99.28},{"x":20,"s":"A","v":99.22},{"x":21,"s":"A","v":99.19},{"x":22,"s":"A","v":99.20},{"x":23,"s":"A","v":99.23},{"x":24,"s":"A","v":99.28},{"x":25,"s":"A","v":99.34},{"x":26,"s":"A","v":99.40},{"x":27,"s":"A","v":99.45},{"x":28,"s":"A","v":99.48},{"x":29,"s":"A","v":99.47},{"x":30,"s":"A","v":99.43},{"x":31,"s":"A","v":99.39},{"x":32,"s":"A","v":99.37},{"x":33,"s":"A","v":99.35},{"x":34,"s":"A","v":99.32},{"x":35,"s":"A","v":99.30},{"x":36,"s":"A","v":99.29},{"x":37,"s":"A","v":99.30},{"x":38,"s":"A","v":99.33},{"x":39,"s":"A","v":99.37},{"x":40,"s":"A","v":99.40},{"x":41,"s":"A","v":99.39},{"x":41.5,"s":"A","v":99.35},{"x":42,"s":"A","v":99.29},{"x":43,"s":"A","v":99.12},{"x":44,"s":"A","v":98.97},{"x":45,"s":"A","v":98.84},{"x":46,"s":"A","v":98.74},{"x":47,"s":"A","v":98.67},{"x":48,"s":"A","v":98.64},{"x":49,"s":"A","v":98.67},{"x":50,"s":"A","v":98.70},{"x":50.6,"s":"A","v":98.71},
  {"x":0.6,"s":"B","v":99.68},{"x":1,"s":"B","v":99.60},{"x":1.5,"s":"B","v":99.50},{"x":2,"s":"B","v":99.38},{"x":2.5,"s":"B","v":99.27},{"x":3,"s":"B","v":99.18},{"x":3.5,"s":"B","v":99.12},{"x":4,"s":"B","v":99.06},{"x":4.5,"s":"B","v":99.01},{"x":5,"s":"B","v":98.97},{"x":6,"s":"B","v":98.94},{"x":7,"s":"B","v":98.95},{"x":8,"s":"B","v":98.97},{"x":9,"s":"B","v":98.96},{"x":9.5,"s":"B","v":98.97},{"x":10,"s":"B","v":99.01},{"x":11,"s":"B","v":99.01},{"x":12,"s":"B","v":99.00},{"x":13,"s":"B","v":98.99},{"x":14,"s":"B","v":98.96},{"x":15,"s":"B","v":98.93},{"x":16,"s":"B","v":98.88},{"x":17,"s":"B","v":98.85},{"x":18,"s":"B","v":98.86},{"x":19,"s":"B","v":98.89},{"x":20,"s":"B","v":98.93},{"x":21,"s":"B","v":98.98},{"x":22,"s":"B","v":99.06},{"x":23,"s":"B","v":99.10},{"x":24,"s":"B","v":99.08},{"x":25,"s":"B","v":99.04},{"x":26,"s":"B","v":99.00},{"x":27,"s":"B","v":98.97},{"x":28,"s":"B","v":98.95},{"x":29,"s":"B","v":98.98},{"x":30,"s":"B","v":99.12},{"x":31,"s":"B","v":99.28},{"x":32,"s":"B","v":99.42},{"x":33,"s":"B","v":99.56},{"x":34,"s":"B","v":99.68},{"x":35,"s":"B","v":99.76},{"x":36,"s":"B","v":99.84},{"x":37,"s":"B","v":99.90},{"x":38,"s":"B","v":99.98},{"x":39,"s":"B","v":100.05},{"x":40,"s":"B","v":100.08},{"x":41,"s":"B","v":100.10},{"x":42,"s":"B","v":100.14},{"x":43,"s":"B","v":100.22},{"x":44,"s":"B","v":100.31},{"x":45,"s":"B","v":100.39},{"x":46,"s":"B","v":100.47},{"x":47,"s":"B","v":100.51},{"x":48,"s":"B","v":100.52},{"x":48.5,"s":"B","v":100.48},{"x":49,"s":"B","v":100.41},{"x":49.5,"s":"B","v":100.35},{"x":50,"s":"B","v":100.30},{"x":50.6,"s":"B","v":100.23},
  {"x":0.6,"s":"G","v":99.40},{"x":1,"s":"G","v":99.40},{"x":2,"s":"G","v":99.39},{"x":3,"s":"G","v":99.43},{"x":4,"s":"G","v":99.45},{"x":5,"s":"G","v":99.51},{"x":6,"s":"G","v":99.50},{"x":7,"s":"G","v":99.47},{"x":8,"s":"G","v":99.42},{"x":9,"s":"G","v":99.38},{"x":10,"s":"G","v":99.34},{"x":10.5,"s":"G","v":99.30},{"x":11,"s":"G","v":99.24},{"x":12,"s":"G","v":99.17},{"x":13,"s":"G","v":99.15},{"x":14,"s":"G","v":99.11},{"x":15,"s":"G","v":99.11},{"x":16,"s":"G","v":99.15},{"x":17,"s":"G","v":99.19},{"x":18,"s":"G","v":99.18},{"x":19,"s":"G","v":99.14},{"x":20,"s":"G","v":99.05},{"x":21,"s":"G","v":98.92},{"x":22,"s":"G","v":98.78},{"x":23,"s":"G","v":98.66},{"x":24,"s":"G","v":98.62},{"x":25,"s":"G","v":98.64},{"x":26,"s":"G","v":98.64},{"x":27,"s":"G","v":98.68},{"x":28,"s":"G","v":98.76},{"x":29,"s":"G","v":98.78},{"x":30,"s":"G","v":98.77},{"x":31,"s":"G","v":98.76},{"x":32,"s":"G","v":98.73},{"x":33,"s":"G","v":98.70},{"x":34,"s":"G","v":98.68},{"x":35,"s":"G","v":98.64},{"x":36,"s":"G","v":98.56},{"x":36.5,"s":"G","v":98.55},{"x":37,"s":"G","v":98.58},{"x":38,"s":"G","v":98.61},{"x":39,"s":"G","v":98.62},{"x":40,"s":"G","v":98.65},{"x":40.7,"s":"G","v":98.69},{"x":41.5,"s":"G","v":98.64},{"x":42,"s":"G","v":98.66},{"x":43,"s":"G","v":98.56},{"x":44,"s":"G","v":98.50},{"x":44.8,"s":"G","v":98.32},{"x":45.5,"s":"G","v":98.20},{"x":46,"s":"G","v":98.14},{"x":47,"s":"G","v":98.07},{"x":48,"s":"G","v":98.02},{"x":49,"s":"G","v":97.99},{"x":50,"s":"G","v":97.98},{"x":50.6,"s":"G","v":97.97}
 ]
},
"spacing": 0,
"bounds": "flush",
"resolve": {"scale": {"color": "shared"}},
"vconcat": [
 {
  "width": 923, "height": 192,
  "layer": [
   {"data": {"name": "ref"}, "mark": {"type": "rule", "color": "#000000", "strokeWidth": 1.5},
    "encoding": {"y": {"field": "r", "type": "quantitative", "scale": {"domain": [80.55, 87.95], "nice": false, "zero": false}, "axis": {"title": ["MM_OilP_TRGT", "kPa"], "values": [82, 83.5, 85, 86.5], "format": ".1f", "titleX": -117, "titleY": 96, "titleAngle": 270, "titleAlign": "center", "titleBaseline": "middle", "titleLineHeight": 26}}}},
   {"data": {"name": "band"}, "mark": {"type": "area", "opacity": 1, "clip": true},
    "encoding": {
     "x": {"field": "x", "type": "quantitative", "scale": {"domain": [0, 52], "nice": false}, "axis": null},
     "y": {"field": "tl", "type": "quantitative", "axis": {"title": ["MM_OilP_TRGT", "kPa"], "values": [82, 83.5, 85, 86.5], "format": ".1f", "titleX": -117, "titleY": 96, "titleAngle": 270, "titleAlign": "center", "titleBaseline": "middle", "titleLineHeight": 26}},
     "y2": {"field": "th"},
     "color": {"field": "s", "type": "nominal", "scale": {"domain": ["A", "B", "G"], "range": ["#4169E1", "#D8475B", "#3BAF45"]}, "legend": {"title": "Aeration Rig Owner"}}
    }},
   {"data": {"name": "pts"}, "transform": [{"filter": "datum.f === 't'"}], "mark": {"type": "point", "filled": true, "size": 24, "opacity": 1, "clip": true},
    "encoding": {
     "x": {"field": "x", "type": "quantitative", "axis": null},
     "y": {"field": "v", "type": "quantitative", "axis": {"title": ["MM_OilP_TRGT", "kPa"], "values": [82, 83.5, 85, 86.5], "format": ".1f", "titleX": -117, "titleY": 96, "titleAngle": 270, "titleAlign": "center", "titleBaseline": "middle", "titleLineHeight": 26}},
     "color": {"field": "s", "type": "nominal"}
    }}
  ]
 },
 {
  "width": 923, "height": 195,
  "layer": [
   {"data": {"name": "dp"}, "mark": {"type": "line", "strokeWidth": 7, "strokeCap": "round", "strokeJoin": "round", "clip": true},
    "encoding": {
     "x": {"field": "x", "type": "quantitative", "scale": {"domain": [0, 52], "nice": false}, "axis": null},
     "y": {"field": "v", "type": "quantitative", "scale": {"domain": [6.2, 7.075], "nice": false, "zero": false}, "axis": {"title": "OildP_AVG kPa", "values": [6.2, 6.35, 6.5, 6.65, 6.8, 6.95], "format": ".2f", "labelFontSize": 16.5, "titleX": -93, "titleY": 97.5, "titleAngle": 270, "titleAlign": "center", "titleBaseline": "middle"}},
     "color": {"field": "s", "type": "nominal"}
    }},
   {"data": {"name": "pts"}, "transform": [{"filter": "datum.f === 'd'"}], "mark": {"type": "point", "filled": true, "size": 30, "opacity": 1, "clip": true},
    "encoding": {
     "x": {"field": "x", "type": "quantitative", "axis": null},
     "y": {"field": "v", "type": "quantitative", "axis": {"title": "OildP_AVG kPa", "values": [6.2, 6.35, 6.5, 6.65, 6.8, 6.95], "format": ".2f", "labelFontSize": 16.5, "titleX": -93, "titleY": 97.5, "titleAngle": 270, "titleAlign": "center", "titleBaseline": "middle"}},
     "color": {"field": "s", "type": "nominal"}
    }}
  ]
 },
 {
  "width": 923, "height": 196,
  "layer": [
   {"data": {"name": "band"}, "mark": {"type": "area", "opacity": 1, "clip": true},
    "encoding": {
     "x": {"field": "x", "type": "quantitative", "scale": {"domain": [0, 52], "nice": false}, "axis": null},
     "y": {"field": "pl", "type": "quantitative", "scale": {"domain": [83.74, 91.33], "nice": false, "zero": false}, "axis": {"title": "OilPin_AVG kPa", "values": [85, 86.5, 88, 89.5], "format": ".1f", "titleX": -93, "titleY": 98, "titleAngle": 270, "titleAlign": "center", "titleBaseline": "middle"}},
     "y2": {"field": "ph"},
     "color": {"field": "s", "type": "nominal"}
    }},
   {"data": {"name": "pts"}, "transform": [{"filter": "datum.f === 'p'"}], "mark": {"type": "point", "filled": true, "size": 24, "opacity": 1, "clip": true},
    "encoding": {
     "x": {"field": "x", "type": "quantitative", "axis": null},
     "y": {"field": "v", "type": "quantitative", "axis": {"title": "OilPin_AVG kPa", "values": [85, 86.5, 88, 89.5], "format": ".1f", "titleX": -93, "titleY": 98, "titleAngle": 270, "titleAlign": "center", "titleBaseline": "middle"}},
     "color": {"field": "s", "type": "nominal"}
    }}
  ]
 },
 {
  "width": 923, "height": 197,
  "data": {"name": "baro"},
  "mark": {"type": "line", "strokeWidth": 6, "strokeCap": "round", "strokeJoin": "round", "clip": true},
  "encoding": {
   "x": {"field": "x", "type": "quantitative", "scale": {"domain": [0, 52], "nice": false}, "axis": {"title": "HR Meter 1", "values": [0,1,2,3,4,5,6,7,8,9,10,11,12,13,14,15,16,17,18,19,20,21,22,23,24,25,26,27,28,29,30,31,32,33,34,35,36,37,38,39,40,41,42,43,44,45,46,47,48,49,50,51,52], "labelExpr": "datum.value % 2 === 0 ? datum.label : ''", "labelOverlap": false, "labelFlush": false, "labelFontSize": 20, "tickSize": 8, "labelPadding": 5, "titlePadding": 11}},
   "y": {"field": "v", "type": "quantitative", "scale": {"domain": [97.86, 100.57], "nice": false, "zero": false}, "axis": {"title": "BARO_AVG kPaA", "values": [97.9, 98.3, 98.7, 99.1, 99.5, 99.9, 100.3], "format": ".1f", "labelFontSize": 19.5, "titleX": -93, "titleY": 98.5, "titleAngle": 270, "titleAlign": "center", "titleBaseline": "middle"}},
   "color": {"field": "s", "type": "nominal"}
  }
 }
]
}
